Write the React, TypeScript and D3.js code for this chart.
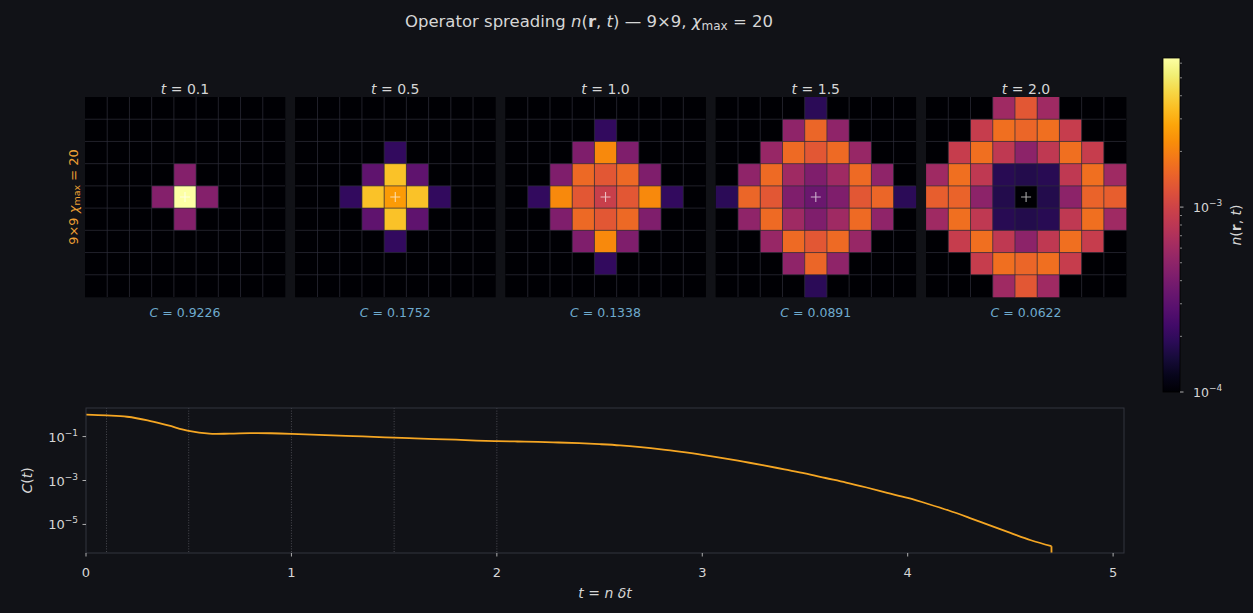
import React from 'react';
import * as d3 from 'd3';

// snapshot heatmaps n(r, t) on the 9x9 lattice
const snapshotTimes = ['0.1', '0.5', '1.0', '1.5', '2.0'];
const snapshotC = ['0.9226', '0.1752', '0.1338', '0.0891', '0.0622'];

const nT01 = [
  [0, 0, 0, 0, 0, 0, 0, 0, 0],
  [0, 0, 0, 0, 0, 0, 0, 0, 0],
  [0, 0, 0, 0, 0, 0, 0, 0, 0],
  [0, 0, 0, 0, 4.5e-4, 0, 0, 0, 0],
  [0, 0, 0, 4.5e-4, 6.4e-3, 4.5e-4, 0, 0, 0],
  [0, 0, 0, 0, 4.5e-4, 0, 0, 0, 0],
  [0, 0, 0, 0, 0, 0, 0, 0, 0],
  [0, 0, 0, 0, 0, 0, 0, 0, 0],
  [0, 0, 0, 0, 0, 0, 0, 0, 0],
];

const nT05 = [
  [0, 0, 0, 0, 0, 0, 0, 0, 0],
  [0, 0, 0, 0, 0, 0, 0, 0, 0],
  [0, 0, 0, 0, 2.0e-4, 0, 0, 0, 0],
  [0, 0, 0, 3.1e-4, 3.56e-3, 3.1e-4, 0, 0, 0],
  [0, 0, 2.0e-4, 3.56e-3, 2.56e-3, 3.56e-3, 2.0e-4, 0, 0],
  [0, 0, 0, 3.1e-4, 3.56e-3, 3.1e-4, 0, 0, 0],
  [0, 0, 0, 0, 2.0e-4, 0, 0, 0, 0],
  [0, 0, 0, 0, 0, 0, 0, 0, 0],
  [0, 0, 0, 0, 0, 0, 0, 0, 0],
];

const nT10 = [
  [0, 0, 0, 0, 0, 0, 0, 0, 0],
  [0, 0, 0, 0, 2.0e-4, 0, 0, 0, 0],
  [0, 0, 0, 4.3e-4, 2.17e-3, 4.3e-4, 0, 0, 0],
  [0, 0, 4.3e-4, 1.6e-3, 1.32e-3, 1.6e-3, 4.3e-4, 0, 0],
  [0, 2.0e-4, 2.17e-3, 1.32e-3, 9.4e-4, 1.32e-3, 2.17e-3, 2.0e-4, 0],
  [0, 0, 4.3e-4, 1.6e-3, 1.32e-3, 1.6e-3, 4.3e-4, 0, 0],
  [0, 0, 0, 4.3e-4, 2.17e-3, 4.3e-4, 0, 0, 0],
  [0, 0, 0, 0, 2.0e-4, 0, 0, 0, 0],
  [0, 0, 0, 0, 0, 0, 0, 0, 0],
];

const nT15 = [
  [0, 0, 0, 0, 1.87e-4, 0, 0, 0, 0],
  [0, 0, 0, 5.06e-4, 1.55e-3, 5.06e-4, 0, 0, 0],
  [0, 0, 5.5e-4, 1.62e-3, 1.32e-3, 1.62e-3, 5.5e-4, 0, 0],
  [0, 5.06e-4, 1.62e-3, 5.97e-4, 4.28e-4, 5.97e-4, 1.62e-3, 5.06e-4, 0],
  [1.87e-4, 1.55e-3, 1.32e-3, 4.28e-4, 3.48e-4, 4.28e-4, 1.32e-3, 1.55e-3, 1.87e-4],
  [0, 5.06e-4, 1.62e-3, 5.97e-4, 4.28e-4, 5.97e-4, 1.62e-3, 5.06e-4, 0],
  [0, 0, 5.5e-4, 1.62e-3, 1.32e-3, 1.62e-3, 5.5e-4, 0, 0],
  [0, 0, 0, 5.06e-4, 1.55e-3, 5.06e-4, 0, 0, 0],
  [0, 0, 0, 0, 1.87e-4, 0, 0, 0, 0],
];

const nT20 = [
  [0, 0, 0, 5.97e-4, 1.32e-3, 5.97e-4, 0, 0, 0],
  [0, 0, 9.05e-4, 1.69e-3, 1.55e-3, 1.69e-3, 9.05e-4, 0, 0],
  [0, 9.05e-4, 1.69e-3, 8.33e-4, 4.85e-4, 8.33e-4, 1.69e-3, 9.05e-4, 0],
  [5.97e-4, 1.69e-3, 8.33e-4, 1.8e-4, 1.72e-4, 1.8e-4, 8.33e-4, 1.69e-3, 5.97e-4],
  [1.43e-3, 1.49e-3, 4.85e-4, 1.72e-4, 0, 1.72e-4, 4.85e-4, 1.49e-3, 1.43e-3],
  [5.97e-4, 1.69e-3, 8.33e-4, 1.8e-4, 1.72e-4, 1.8e-4, 8.33e-4, 1.69e-3, 5.97e-4],
  [0, 9.05e-4, 1.69e-3, 8.33e-4, 4.85e-4, 8.33e-4, 1.69e-3, 9.05e-4, 0],
  [0, 0, 9.05e-4, 1.69e-3, 1.55e-3, 1.69e-3, 9.05e-4, 0, 0],
  [0, 0, 0, 5.97e-4, 1.32e-3, 5.97e-4, 0, 0, 0],
];

const snapshots = [nT01, nT05, nT10, nT15, nT20];

// colorbar range
const cbarMin = 1e-4;
const cbarMax = 6.4e-3;
const cbarMajor = [1e-4, 1e-3];
const cbarMajorLabels = ['−4', '−3'];
const cbarMinor = [2e-4, 3e-4, 4e-4, 5e-4, 6e-4, 7e-4, 8e-4, 9e-4, 2e-3, 3e-3, 4e-3, 5e-3, 6e-3];

// C(t) curve
const cTimes = [
  0, 0.1, 0.2, 0.3, 0.4, 0.5, 0.6, 0.7, 0.8, 0.9,
  1.0, 1.1, 1.2, 1.3, 1.4, 1.5, 1.6, 1.7, 1.8, 1.9,
  2.0, 2.1, 2.2, 2.3, 2.4, 2.5, 2.6, 2.7, 2.8, 2.9,
  3.0, 3.1, 3.2, 3.3, 3.4, 3.5, 3.6, 3.7, 3.8, 3.9,
  4.0, 4.1, 4.2, 4.3, 4.4, 4.5, 4.6, 4.7,
];
const cValues = [
  1.0, 0.92, 0.80, 0.55, 0.32, 0.18, 0.135, 0.136, 0.143, 0.142,
  0.134, 0.123, 0.114, 0.105, 0.097, 0.089, 0.083, 0.077, 0.072, 0.066,
  0.062, 0.0596, 0.0569, 0.0537, 0.0501, 0.0452, 0.0398, 0.0331, 0.0263, 0.020,
  0.0148, 0.0105, 0.0072, 0.0049, 0.0032, 0.0021, 0.0013, 8.1e-4, 4.8e-4, 2.75e-4,
  1.6e-4, 8.5e-5, 4.3e-5, 2.0e-5, 9.0e-6, 4.1e-6, 1.9e-6, 1.02e-6,
];
// the series ends in an exact zero, drawn as a drop through the bottom of the axes
const cFinal: [number, number] = [4.7, 1e-12];
const xTicks = [0, 1, 2, 3, 4, 5];
const yTicks = [1e-1, 1e-3, 1e-5];
const yTickExp = ['−1', '−3', '−5'];
const markerTimes = [0.1, 0.5, 1.0, 1.5, 2.0];

const BG = '#111217';
const TXT = '#d6d6d6';
const FONT = 'DejaVu Sans, sans-serif';

const App: React.FC = () => {
  const color = d3.scaleSequentialLog(d3.interpolateInferno).domain([cbarMin, cbarMax]).clamp(true);
  const fill = (v: number) => (v > cbarMin ? color(v) : d3.interpolateInferno(0));

  const panelSize = 200;
  const panelX = d3.scaleBand<number>().domain(d3.range(5)).range([85, 1126]).paddingInner(0.0492);
  const panelTop = 97;
  const cell = d3.scaleBand<number>().domain(d3.range(9)).range([0, panelSize]);

  // colorbar
  const cb = { x: 1163, w: 17, top: 58, bottom: 392 };
  const cbY = d3.scaleLog().domain([cbarMin, cbarMax]).range([cb.bottom, cb.top]);
  const stops = d3.range(0, 1.0001, 0.05);

  // bottom plot
  const ax = { left: 86, right: 1124, top: 408, bottom: 553 };
  const x = d3.scaleLinear().domain([0, 5.053]).range([ax.left, ax.right]);
  const y = d3.scaleLog().domain([5e-7, 2]).range([ax.bottom, ax.top]);
  const linePts: [number, number][] = cTimes.map((t, i) => [t, cValues[i]]);
  const line = d3.line<[number, number]>()
    .x(d => x(d[0]))
    .y(d => y(d[1]))
    .curve(d3.curveCatmullRom.alpha(0.5));
  const last = linePts[linePts.length - 1];
  const drop = `M${x(last[0])},${y(last[1])}L${x(cFinal[0])},${y(cFinal[1])}`;

  return (
    <svg width={1253} height={613} style={{ position: 'absolute', left: 0, top: 0, background: BG }} fontFamily={FONT}>
      <defs>
        <linearGradient id="cbar" x1="0" y1="1" x2="0" y2="0">
          {stops.map(s => (
            <stop key={s} offset={s} stopColor={d3.interpolateInferno(s)} />
          ))}
        </linearGradient>
        <clipPath id="axclip">
          <rect x={ax.left} y={ax.top} width={ax.right - ax.left} height={ax.bottom - ax.top} />
        </clipPath>
      </defs>
      <rect width={1253} height={613} fill={BG} />

      <text x={589} y={27} textAnchor="middle" fontSize={16.5} fill={TXT}>
        Operator spreading <tspan fontStyle="italic">n</tspan>(<tspan fontWeight="bold">r</tspan>,{' '}
        <tspan fontStyle="italic">t</tspan>) — 9×9, <tspan fontStyle="italic">χ</tspan>
        <tspan fontSize={12} dy={3}>max</tspan>
        <tspan dy={-3}> = 20</tspan>
      </text>

      <text transform="translate(73,197) rotate(-90)" textAnchor="middle" dominantBaseline="central" fontSize={13} fill="#eda034">
        9×9  <tspan fontStyle="italic">χ</tspan><tspan fontSize={9.5} dy={2.5}>max</tspan><tspan dy={-2.5}> = 20</tspan>
      </text>

      {snapshots.map((grid, p) => {
        const x0 = panelX(p) as number;
        const c = cell.bandwidth();
        const mid = (cell(4) as number) + c / 2;
        return (
          <g key={p} transform={`translate(${x0},${panelTop})`}>
            <rect width={panelSize} height={panelSize} fill="#000004" />
            {grid.map((row, r) => row.map((v, k) => (
              <rect key={`${r}-${k}`} x={cell(k)} y={cell(r)} width={c + 0.3} height={c + 0.3} fill={fill(v)} />
            )))}
            {d3.range(1, 9).map(i => (
              <g key={i}>
                <line x1={cell(i)} x2={cell(i)} y1={0} y2={panelSize} stroke="#2c2c3a" strokeOpacity={0.8} strokeWidth={0.9} />
                <line y1={cell(i)} y2={cell(i)} x1={0} x2={panelSize} stroke="#2c2c3a" strokeOpacity={0.8} strokeWidth={0.9} />
              </g>
            ))}
            <path
              d={`M${mid - 5},${mid}h10M${mid},${mid - 5}v10`}
              stroke="#ffffff" strokeOpacity={0.65} strokeWidth={1.1}
            />
            <text x={panelSize / 2} y={-3} textAnchor="middle" fontSize={14} fill={TXT}>
              <tspan fontStyle="italic">t</tspan> = {snapshotTimes[p]}
            </text>
            <text x={panelSize / 2} y={220} textAnchor="middle" fontSize={12.5} fill="#6eaacd">
              <tspan fontStyle="italic">C</tspan> = {snapshotC[p]}
            </text>
          </g>
        );
      })}

      {/* colorbar */}
      <rect x={cb.x} y={cb.top} width={cb.w} height={cb.bottom - cb.top} fill="url(#cbar)" stroke="#000" strokeWidth={0.8} />
      {cbarMinor.map(v => (
        <line key={v} x1={cb.x + cb.w} x2={cb.x + cb.w + 2} y1={cbY(v)} y2={cbY(v)} stroke={TXT} strokeWidth={0.6} />
      ))}
      {cbarMajor.map((v, i) => (
        <g key={v}>
          <line x1={cb.x + cb.w} x2={cb.x + cb.w + 3.5} y1={cbY(v)} y2={cbY(v)} stroke={TXT} strokeWidth={0.8} />
          <text x={cb.x + cb.w + 13} y={cbY(v) + 4.5} fontSize={12.5} fill={TXT}>
            10<tspan fontSize={9} dy={-5.5}>{cbarMajorLabels[i]}</tspan>
          </text>
        </g>
      ))}
      <text transform={`translate(1241,${(cb.top + cb.bottom) / 2}) rotate(-90)`} textAnchor="middle" fontSize={14} fill={TXT}>
        <tspan fontStyle="italic">n</tspan>(<tspan fontWeight="bold">r</tspan>, <tspan fontStyle="italic">t</tspan>)
      </text>

      {/* C(t) axes */}
      {markerTimes.map(t => (
        <line key={t} x1={x(t)} x2={x(t)} y1={ax.top} y2={ax.bottom} stroke="#6a6a72" strokeWidth={0.8} strokeDasharray="1,1.6" strokeOpacity={0.8} />
      ))}
      <g clipPath="url(#axclip)" fill="none" stroke="#f5a623" strokeWidth={1.8}>
        <path d={line(linePts) ?? ''} />
        <path d={drop} />
      </g>
      <rect x={ax.left} y={ax.top} width={ax.right - ax.left} height={ax.bottom - ax.top} fill="none" stroke="#33343f" strokeWidth={1} />
      {xTicks.map(t => (
        <g key={t}>
          <line x1={x(t)} x2={x(t)} y1={ax.bottom} y2={ax.bottom + 3.5} stroke={TXT} strokeWidth={0.8} />
          <text x={x(t)} y={ax.bottom + 24} textAnchor="middle" fontSize={13} fill={TXT}>{t}</text>
        </g>
      ))}
      {yTicks.map((v, i) => (
        <g key={v}>
          <line x1={ax.left - 3.5} x2={ax.left} y1={y(v)} y2={y(v)} stroke={TXT} strokeWidth={0.8} />
          <text x={ax.left - 8} y={y(v) + 5} textAnchor="end" fontSize={13} fill={TXT}>
            10<tspan fontSize={9} dy={-6}>{yTickExp[i]}</tspan>
          </text>
        </g>
      ))}
      <text transform={`translate(32,${(ax.top + ax.bottom) / 2}) rotate(-90)`} textAnchor="middle" fontSize={14} fill={TXT}>
        <tspan fontStyle="italic">C</tspan>(<tspan fontStyle="italic">t</tspan>)
      </text>
      <text x={(ax.left + ax.right) / 2} y={598} textAnchor="middle" fontSize={14} fill={TXT}>
        <tspan fontStyle="italic">t</tspan> = <tspan fontStyle="italic">n</tspan> <tspan fontStyle="italic">δt</tspan>
      </text>
    </svg>
  );
};

export default App;
